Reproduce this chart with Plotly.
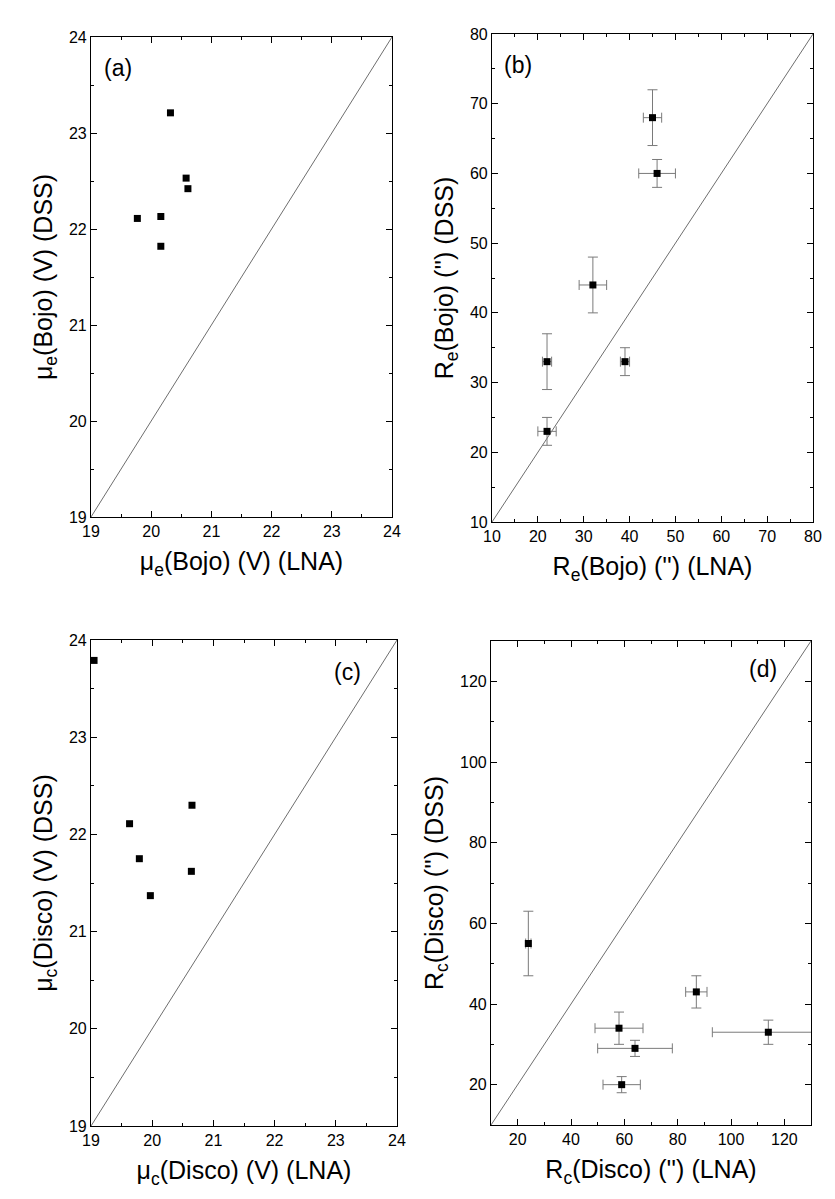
import plotly.graph_objects as go

# ---------------------------------------------------------------------------
# data
# ---------------------------------------------------------------------------
# (a) bulge effective surface brightness, LNA vs DSS
a_lna = [19.77, 20.32, 20.16, 20.16, 20.58, 20.61]
a_dss = [22.11, 23.21, 22.13, 21.82, 22.53, 22.42]

# (b) bulge effective radius, with errors
b_lna = [45, 46, 32, 22, 39, 22]
b_dss = [68, 60, 44, 33, 33, 23]
b_lna_err = [2, 4, 3, 1, 1, 2]
b_dss_err = [4, 2, 4, 4, 2, 2]

# (c) disc central surface brightness
c_lna = [19.05, 19.63, 19.79, 19.97, 20.65, 20.64]
c_dss = [23.79, 22.11, 21.75, 21.37, 22.30, 21.62]

# (d) disc scale radius, with errors
d_lna = [24, 87, 58, 64, 59, 114]
d_dss = [55, 43, 34, 29, 20, 33]
d_lna_err = [1, 4, 9, 14, 7, 21]
d_dss_err = [8, 4, 4, 2, 2, 3]

mu_range = [19, 24]
re_range = [10, 80]
rc_range = [10, 130]

W, H = 835, 1199


def dom_x(x0, x1):
    return [x0 / W, x1 / W]


def dom_y(y_top, y_bot):
    return [1 - y_bot / H, 1 - y_top / H]


FONT = "Liberation Sans, Arial, sans-serif"
ERR = "#7a7a7a"

fig = go.Figure()

panels = [
    # suffix, x, y, xerr, yerr, range, dtick, minor, domains, label, label pos, titles
    ("", a_lna, a_dss, None, None, mu_range, 1, 0.5,
     dom_x(83, 384), dom_y(29, 509), "(a)", (0.035, 0.935, "left"),
     "\u03bc<sub>e</sub>(Bojo) (V) (LNA)", "\u03bc<sub>e</sub>(Bojo) (V) (DSS)"),
    ("2", b_lna, b_dss, b_lna_err, b_dss_err, re_range, 10, 5,
     dom_x(484, 805), dom_y(26, 514), "(b)", (0.03, 0.936, "left"),
     "R<sub>e</sub>(Bojo) ('') (LNA)", "R<sub>e</sub>(Bojo) ('') (DSS)"),
    ("3", c_lna, c_dss, None, None, mu_range, 1, 0.5,
     dom_x(83, 389), dom_y(632, 1118), "(c)", (0.89, 0.935, "right"),
     "\u03bc<sub>c</sub>(Disco) (V) (LNA)", "\u03bc<sub>c</sub>(Disco) (V) (DSS)"),
    ("4", d_lna, d_dss, d_lna_err, d_dss_err, rc_range, 20, 10,
     dom_x(483, 803), dom_y(633, 1117), "(d)", (0.9, 0.943, "right"),
     "R<sub>c</sub>(Disco) ('') (LNA)", "R<sub>c</sub>(Disco) ('') (DSS)"),
]

for (sfx, xs, ys, xe, ye, rng, dt, mdt, dx, dy, lab, lpos,
     xtitle, ytitle) in panels:
    xa, ya = "x" + sfx, "y" + sfx
    # y = x reference line across the axis range
    fig.add_trace(go.Scatter(
        x=rng, y=rng, xaxis=xa, yaxis=ya, mode="lines",
        line=dict(color="#6e6e6e", width=1), showlegend=False,
        hoverinfo="skip"))
    fig.add_trace(go.Scatter(
        x=xs, y=ys, xaxis=xa, yaxis=ya, mode="markers",
        marker=dict(symbol="square", size=7, color="black"),
        error_x=dict(type="data", array=xe, color=ERR, thickness=1,
                     width=5, visible=xe is not None),
        error_y=dict(type="data", array=ye, color=ERR, thickness=1,
                     width=5, visible=ye is not None),
        showlegend=False, cliponaxis=True))

    axis_common = dict(
        range=rng, dtick=dt, tick0=0, showline=True, linecolor="black",
        linewidth=1.2, mirror="ticks", ticks="inside", ticklen=6,
        tickwidth=1.2, tickcolor="black", showgrid=False, zeroline=False,
        tickfont=dict(family=FONT, size=16, color="black"),
        minor=dict(ticks="inside", ticklen=3, dtick=mdt, tick0=0,
                   tickcolor="black", tickwidth=1.2),
        automargin=False,
    )
    fig.layout["xaxis" + sfx] = dict(
        axis_common, domain=dx, anchor=ya,
        title=dict(text=xtitle, standoff=13,
                   font=dict(family=FONT, size=25, color="black")))
    fig.layout["yaxis" + sfx] = dict(
        axis_common, domain=dy, anchor=xa,
        title=dict(text=ytitle, standoff=9,
                   font=dict(family=FONT, size=25, color="black")))

    fig.add_annotation(
        text=lab, xref=xa + " domain", yref=ya + " domain",
        x=lpos[0], y=lpos[1], xanchor=lpos[2], yanchor="middle",
        showarrow=False, font=dict(family=FONT, size=23, color="black"))

fig.update_layout(
    width=W, height=H, margin=dict(l=0, r=0, t=0, b=0),
    paper_bgcolor="white", plot_bgcolor="white",
)

fig.write_html("out.html")
